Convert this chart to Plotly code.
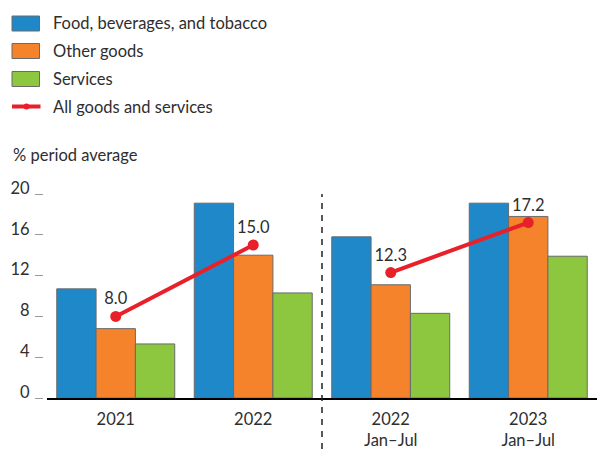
import plotly.graph_objects as go

# Inflation by component, % period average
categories = ["2021", "2022", "2022<br>Jan–Jul", "2023<br>Jan–Jul"]
food = [10.7, 19.1, 15.8, 19.1]
other_goods = [6.8, 14.0, 11.1, 17.8]
services = [5.3, 10.3, 8.3, 13.9]
all_goods_services = [8.0, 15.0, 12.3, 17.2]

series_names = ["Food, beverages, and tobacco", "Other goods", "Services", "All goods and services"]
colors = ["#1f88c9", "#f5832b", "#8dc63f", "#e8202a"]

FONT = "Lato"
FS = 16.5
TEXT = "#2e2e2e"
W, H = 597, 449
ML, MR, MT, MB = 43, 0, 189, 51
PW, PH = W - ML - MR, H - MT - MB
Y_MAX = 20.49
X0 = 4 / PW  # small gap between the y ticks and the x axis line


def px_x(px):
    return (px - ML) / PW


def px_y(py):
    return (H - MB - py) / PH


fig = go.Figure()
for vals, name, col in zip([food, other_goods, services], series_names[:3], colors[:3]):
    fig.add_trace(go.Bar(
        x=categories, y=vals, name=name, showlegend=False,
        marker=dict(color=col, line=dict(color="#6a6a6a", width=1)),
    ))

# the headline rate is joined only within each comparison period
for sl in (slice(0, 2), slice(2, 4)):
    fig.add_trace(go.Scatter(
        x=categories[sl], y=all_goods_services[sl], name=series_names[3], showlegend=False,
        mode="lines+markers+text",
        line=dict(color=colors[3], width=4),
        marker=dict(color=colors[3], size=11),
        text=[f"{v:.1f}" for v in all_goods_services[sl]],
        textposition="top center",
        textfont=dict(family=FONT, size=FS, color=TEXT),
    ))

shapes = []
annotations = []

# period separator between annual and Jan–Jul comparisons
sep_x = X0 + (1 - X0) * 0.5
shapes.append(dict(type="line", xref="paper", yref="paper",
                   x0=sep_x, x1=sep_x, y0=px_y(H), y1=20 / Y_MAX,
                   line=dict(color="#222", width=1.5, dash="6px,6px")))

# legend
row_y = [23.5, 51, 79, 106.5]
for i, (name, col) in enumerate(zip(series_names, colors)):
    cy = row_y[i]
    if i < 3:
        shapes.append(dict(type="rect", xref="paper", yref="paper",
                           x0=px_x(12), x1=px_x(39.5), y0=px_y(cy - 7.5), y1=px_y(cy + 7.5),
                           fillcolor=col, line=dict(color="#6a6a6a", width=1)))
    else:
        shapes.append(dict(type="line", xref="paper", yref="paper",
                           x0=px_x(12), x1=px_x(40.5), y0=px_y(cy), y1=px_y(cy),
                           line=dict(color=col, width=4)))
        shapes.append(dict(type="circle", xref="paper", yref="paper",
                           x0=px_x(23.5), x1=px_x(29.5), y0=px_y(cy - 3), y1=px_y(cy + 3),
                           fillcolor=col, line=dict(width=0)))
    annotations.append(dict(xref="paper", yref="paper", x=px_x(51), y=px_y(cy),
                            xanchor="left", yanchor="middle", showarrow=False,
                            text=name, font=dict(family=FONT, size=FS, color=TEXT)))

annotations.append(dict(xref="paper", yref="paper", x=px_x(11), y=px_y(155),
                        xanchor="left", yanchor="middle", showarrow=False,
                        text="% period average", font=dict(family=FONT, size=FS, color=TEXT)))

fig.update_layout(
    width=W, height=H,
    margin=dict(l=ML, r=MR, t=MT, b=MB),
    paper_bgcolor="white", plot_bgcolor="white",
    barmode="group", bargap=0.142, bargroupgap=0,
    font=dict(family=FONT, size=FS, color=TEXT),
    shapes=shapes, annotations=annotations,
    xaxis=dict(type="category", range=[-0.5, 3.5], domain=[X0, 1],
               showline=True, linecolor="black", linewidth=2,
               ticks="", showgrid=False, zeroline=False, automargin=False,
               ticklabelstandoff=5,
               tickfont=dict(family=FONT, size=FS, color=TEXT)),
    yaxis=dict(range=[0, Y_MAX], tickvals=[0, 4, 8, 12, 16, 20],
               anchor="free", position=0,
               showline=False, showgrid=False, zeroline=False, automargin=False,
               ticks="outside", ticklen=8, tickwidth=1, tickcolor="#9a9a9a",
               ticklabelshift=-6, ticklabelstandoff=2,
               tickfont=dict(family=FONT, size=FS, color=TEXT)),
)

fig.write_html("out.html")
